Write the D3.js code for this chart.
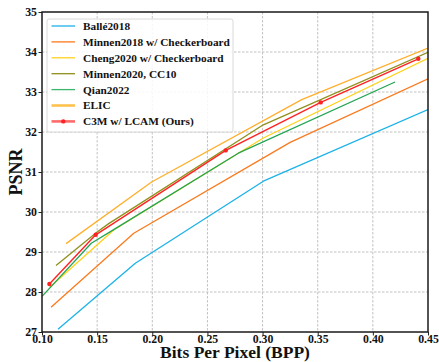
<!DOCTYPE html>
<html lang="en">
<head>
    <meta charset="utf-8">
    <title>PSNR vs BPP</title>
    <script type="text/javascript" src="https://cdn.jsdelivr.net/npm/d3@7"></script>
    <style type="text/css">
        body { margin: 0; background: #fff; }
        text { font-family: "Liberation Serif", "Times New Roman", serif; font-weight: bold; }
    </style>
</head>
<body>
<script type="text/javascript">

    var w = 439;
    var h = 362;
    var margin = { top: 12, right: 11, bottom: 30, left: 42 };

    // tick values
    var xTicks = [0.10, 0.15, 0.20, 0.25, 0.30, 0.35, 0.40, 0.45];
    var yTicks = [27, 28, 29, 30, 31, 32, 33, 34, 35];

    // series (bpp, psnr)
    var balle2018 = [[0.1145, 27.07], [0.1846, 28.72], [0.3007, 30.77], [0.45, 32.56]];
    var minnen2018 = [[0.1082, 27.62], [0.1832, 29.47], [0.325, 31.74], [0.45, 33.33]];
    var cheng2020 = [[0.107, 28.12], [0.1453, 29.06], [0.165, 29.55], [0.278, 31.47], [0.3007, 31.85], [0.45, 33.84]];
    var minnen2020 = [[0.1127, 28.66], [0.150, 29.50], [0.1605, 29.71], [0.3007, 32.18], [0.45, 33.99]];
    var qian2022 = [[0.10, 27.89], [0.1447, 29.22], [0.165, 29.56], [0.278, 31.47], [0.4201, 33.25]];
    var elic = [[0.1218, 29.21], [0.1994, 30.75], [0.3355, 32.81], [0.45, 34.10]];
    var c3m = [[0.1067, 28.20], [0.1487, 29.43], [0.2666, 31.54], [0.3527, 32.74], [0.4412, 33.83]];

    var series = [
        { name: "Ballé2018", data: balle2018, color: "#1cb2e8", legendColor: "#1cb2e8", lw: 1.3 },
        { name: "Minnen2018 w/ Checkerboard", data: minnen2018, color: "#fb7a1e", legendColor: "#fb7a1e", lw: 1.3 },
        { name: "Cheng2020 w/ Checkerboard", data: cheng2020, color: "#ffd21a", legendColor: "#ffd21a", lw: 1.3 },
        { name: "Minnen2020, CC10", data: minnen2020, color: "#8f8f1c", legendColor: "#8f8f1c", lw: 1.3 },
        { name: "Qian2022", data: qian2022, color: "#23a552", legendColor: "#3cb46c", lw: 1.3 },
        { name: "ELIC", data: elic, color: "#ffaf2c", legendColor: "#ffc24f", lw: 1.3, legendLw: 2.6 },
        { name: "C3M w/ LCAM (Ours)", data: c3m, color: "#ff2222", legendColor: "#ff6b6b", lw: 1.4, legendLw: 2.6, marker: true }
    ];

    var iw = w - margin.left - margin.right;
    var ih = h - margin.top - margin.bottom;

    var xScale = d3.scaleLinear().domain([0.10, 0.45]).range([0, iw]);
    var yScale = d3.scaleLinear().domain([27, 35]).range([ih, 0]);

    var svg = d3.select("body")
        .append("svg")
        .attr("width", w)
        .attr("height", h);

    svg.append("defs").append("clipPath")
        .attr("id", "plotclip")
        .append("rect")
        .attr("width", iw)
        .attr("height", ih);

    var g = svg.append("g")
        .attr("transform", "translate(" + margin.left + "," + margin.top + ")");

    // grid
    g.append("g").selectAll("line")
        .data(xTicks.slice(1, -1))
        .enter().append("line")
        .attr("x1", function (d) { return xScale(d); })
        .attr("x2", function (d) { return xScale(d); })
        .attr("y1", 0).attr("y2", ih)
        .attr("stroke", "#b3b3b3").attr("stroke-width", 0.8)
        .attr("stroke-dasharray", "2.5,1.5");

    g.append("g").selectAll("line")
        .data(yTicks.slice(1, -1))
        .enter().append("line")
        .attr("y1", function (d) { return yScale(d); })
        .attr("y2", function (d) { return yScale(d); })
        .attr("x1", 0).attr("x2", iw)
        .attr("stroke", "#b3b3b3").attr("stroke-width", 0.8)
        .attr("stroke-dasharray", "2.5,1.5");

    // lines
    var line = d3.line()
        .x(function (d) { return xScale(d[0]); })
        .y(function (d) { return yScale(d[1]); });

    var plot = g.append("g").attr("clip-path", "url(#plotclip)");

    series.forEach(function (s) {
        plot.append("path")
            .datum(s.data)
            .attr("d", line)
            .attr("fill", "none")
            .attr("stroke", s.color)
            .attr("stroke-width", s.lw)
            .attr("stroke-linejoin", "round");
        if (s.marker) {
            plot.selectAll(null)
                .data(s.data)
                .enter().append("circle")
                .attr("cx", function (d) { return xScale(d[0]); })
                .attr("cy", function (d) { return yScale(d[1]); })
                .attr("r", 2.2)
                .attr("fill", s.color);
        }
    });

    // axes
    var xAxis = d3.axisBottom(xScale).tickValues(xTicks).tickFormat(d3.format(".2f")).tickSize(3.5);
    var yAxis = d3.axisLeft(yScale).tickValues(yTicks).tickFormat(d3.format("d")).tickSize(3.5);

    var gx = g.append("g").attr("transform", "translate(0," + ih + ")").call(xAxis);
    var gy = g.append("g").call(yAxis);

    [gx, gy].forEach(function (ax) {
        ax.select(".domain").remove();
        ax.selectAll(".tick line").attr("stroke", "#222").attr("stroke-width", 1);
        ax.selectAll(".tick text")
            .attr("fill", "#111")
            .style("font-size", "11.8px")
            .style("font-family", "'Liberation Serif', serif")
            .style("font-weight", "bold");
    });
    gx.selectAll(".tick text").attr("y", 11).attr("dy", 0);
    gy.selectAll(".tick text").attr("x", -5);

    // frame
    g.append("rect")
        .attr("width", iw).attr("height", ih)
        .attr("fill", "none")
        .attr("stroke", "#1a1a1a").attr("stroke-width", 1.5);

    // axis titles
    svg.append("text")
        .attr("x", margin.left + iw / 2)
        .attr("y", 358)
        .attr("text-anchor", "middle")
        .attr("font-size", "17.5px")
        .attr("fill", "#111")
        .text("Bits Per Pixel (BPP)");

    svg.append("text")
        .attr("transform", "translate(22," + (margin.top + ih / 2) + ") rotate(-90)")
        .attr("text-anchor", "middle")
        .attr("font-size", "18px")
        .attr("fill", "#111")
        .text("PSNR");

    // legend
    var legend = g.append("g").attr("transform", "translate(5,7)");
    legend.append("rect")
        .attr("width", 186).attr("height", 113)
        .attr("rx", 2)
        .attr("fill", "#fff").attr("fill-opacity", 0.85)
        .attr("stroke", "#d0d0d0").attr("stroke-width", 0.8);

    var items = legend.selectAll("g.item")
        .data(series)
        .enter().append("g")
        .attr("class", "item")
        .attr("transform", function (d, i) { return "translate(0," + (7 + i * 15.9) + ")"; });

    items.append("line")
        .attr("x1", 4.5).attr("x2", 28)
        .attr("stroke", function (d) { return d.legendColor; })
        .attr("stroke-width", function (d) { return d.legendLw || 1.3; });

    items.filter(function (d) { return d.marker; })
        .append("circle")
        .attr("cx", 16.3).attr("r", 2.2)
        .attr("fill", function (d) { return d.color; });

    items.append("text")
        .attr("x", 36)
        .attr("dy", "0.35em")
        .attr("font-size", "11.3px")
        .attr("fill", "#111")
        .text(function (d) { return d.name; });

</script>
</body>
</html>
